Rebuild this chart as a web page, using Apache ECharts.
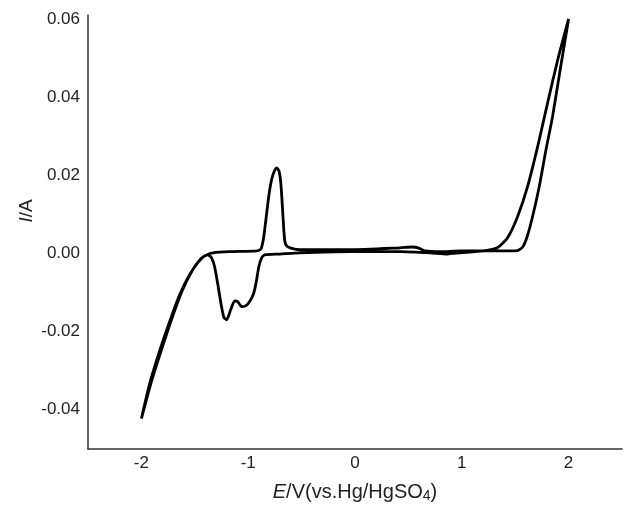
<!DOCTYPE html>
<html>
<head>
<meta charset="utf-8">
<script src="https://cdn.jsdelivr.net/npm/echarts@6/dist/echarts.min.js"></script>
<style>
html,body{margin:0;padding:0;background:#fff;}
#chart{width:641px;height:507px;}
</style>
</head>
<body>
<div id="chart"></div>
<script>
// Potential (V vs Hg/HgSO4), traversed as one closed CV loop
var potential = [
  -2.000, -1.906, -1.803, -1.709, -1.615, -1.521, -1.437, -1.380, -1.330,
  -1.174, -0.920, -0.880, -0.855, -0.830, -0.805, -0.779, -0.751, -0.732, -0.712,
  -0.695, -0.680, -0.667, -0.657, -0.640, -0.600, -0.516, -0.047, 0.423, 0.535,
  0.592, 0.657, 0.798, 0.986, 1.362, 1.521, 1.570, 1.610, 1.660, 1.720, 1.790,
  1.850, 1.925, 2.000,
  1.897, 1.803, 1.709, 1.615, 1.521, 1.427, 1.333, 1.202, 0.986, 0.864,
  0.704, 0.423, -0.047, -0.516, -0.704, -0.845, -0.873, -0.900, -0.925, -0.950,
  -0.986, -1.023, -1.061, -1.099, -1.127, -1.164, -1.202, -1.228, -1.255,
  -1.285, -1.315, -1.345, -1.380, -1.418, -1.474, -1.549, -1.643, -1.737, -1.831,
  -1.925, -2.000
];
// Current (A)
var current = [
  -0.0425, -0.0330, -0.0241, -0.0164, -0.0095, -0.0044, -0.0013, -0.0004, 0.0000,
  0.0003, 0.0005, 0.0010, 0.0040, 0.0095, 0.0150, 0.0190, 0.0212, 0.0218, 0.0210,
  0.0180, 0.0120, 0.0060, 0.0030, 0.0018, 0.0012, 0.0008, 0.0008, 0.0013, 0.0015,
  0.0013, 0.0005, 0.0003, 0.0005, 0.0005, 0.0006, 0.0015, 0.0040, 0.0090, 0.0163,
  0.0267, 0.0350, 0.0476, 0.0600,
  0.0494, 0.0384, 0.0271, 0.0169, 0.0092, 0.0038, 0.0013, 0.0005, 0.0000, -0.0003,
  0.0000, 0.0003, 0.0003, 0.0000, -0.0003, -0.0005, -0.0012, -0.0035, -0.0075, -0.0105,
  -0.0125, -0.0136, -0.0138, -0.0125, -0.0123, -0.0146, -0.0172, -0.0165, -0.0130,
  -0.0080, -0.0035, -0.0012, -0.0005, -0.0010, -0.0026, -0.0056, -0.0108, -0.0177, -0.0253,
  -0.0338, -0.0425
];
var xTicks = [-2, -1, 0, 1, 2];
var yTicks = [-0.04, -0.02, 0.00, 0.02, 0.04, 0.06];

var loop = potential.map(function (e, i) { return [e, current[i]]; });

var chart = echarts.init(document.getElementById('chart'), null, {renderer: 'canvas'});
var font = 'Liberation Sans, Arial, Helvetica, sans-serif';
chart.setOption({
  animation: false,
  backgroundColor: '#fff',
  grid: {left: 88, right: 19, top: 15, bottom: 58},
  xAxis: {
    type: 'value', min: -2.5, max: 2.5,
    axisLine: {show: true, onZero: false, lineStyle: {color: '#333', width: 1.5}},
    axisTick: {show: false},
    splitLine: {show: false},
    axisLabel: {customValues: xTicks, margin: 6, color: '#222', fontSize: 17, fontFamily: font,
      formatter: function (v) { return String(v); }}
  },
  yAxis: {
    type: 'value', min: -0.0503, max: 0.0610,
    axisLine: {show: true, onZero: false, lineStyle: {color: '#333', width: 1.5}},
    axisTick: {show: false},
    splitLine: {show: false},
    axisLabel: {customValues: yTicks, margin: 8, color: '#222', fontSize: 17, fontFamily: font,
      formatter: function (v) { return v.toFixed(2); }}
  },
  graphic: [
    {type: 'text', x: 355, y: 492, style: {
      text: '{i|E}/V(vs.Hg/HgSO{s|4})', align: 'center', verticalAlign: 'middle',
      fill: '#222', font: '20px ' + font,
      rich: {i: {fontStyle: 'italic', fontSize: 20, fontFamily: font, fill: '#222'},
             s: {fontSize: 14, fontFamily: font, verticalAlign: 'bottom', padding: [9, 0, 0, 0], fill: '#222'}}
    }},
    {type: 'text', x: 27, y: 211, rotation: Math.PI / 2, style: {
      text: '{i|I}/A', align: 'center', verticalAlign: 'middle',
      fill: '#222', font: '19px ' + font,
      rich: {i: {fontStyle: 'italic', fontSize: 19, fontFamily: font, fill: '#222'}}
    }}
  ],
  series: [{
    type: 'line', data: loop, showSymbol: false, smooth: 0.2,
    lineStyle: {color: '#000', width: 2.8}
  }]
});
</script>
</body>
</html>
